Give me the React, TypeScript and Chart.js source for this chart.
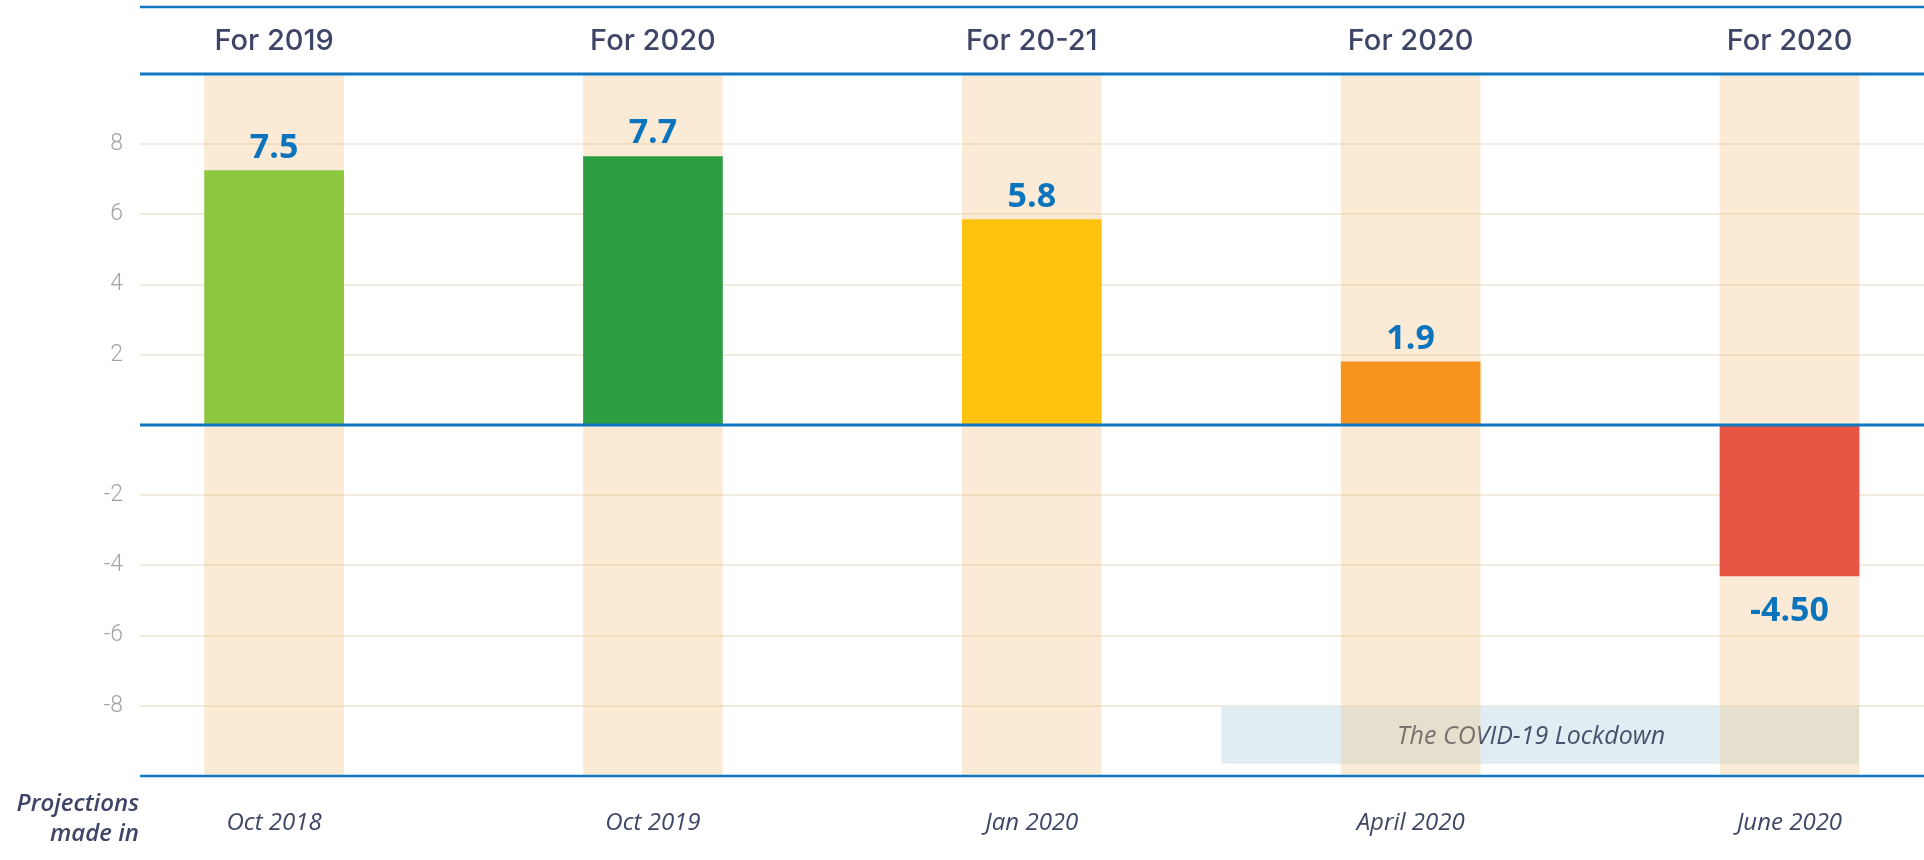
import React, { useEffect, useRef } from 'react';
import { Chart, registerables } from 'chart.js';

Chart.register(...registerables);

// ---- data ----
const POSITIONS = [0, 1, 2, 3, 4];
const FOR_LABELS = ['For 2019', 'For 2020', 'For 20-21', 'For 2020', 'For 2020'];
const MADE_IN = ['Oct 2018', 'Oct 2019', 'Jan 2020', 'April 2020', 'June 2020'];
const VALUES = [7.25, 7.65, 5.85, 1.8, -4.3];
const VALUE_LABELS = ['7.5', '7.7', '5.8', '1.9', '-4.50'];
const BAR_COLORS = ['#8DC63F', '#2E9E42', '#FFC20F', '#F7941E', '#E85444'];
const Y_MIN = -10;
const Y_MAX = 10;
const Y_TICKS = [-8, -6, -4, -2, 2, 4, 6, 8];
const LOCKDOWN_TEXT = 'The COVID-19 Lockdown';
const LOCKDOWN_FROM = 2.5;
const LOCKDOWN_TOP = -8;
const LOCKDOWN_BOTTOM = -9.65;
const ROW_TITLE = ['Projections', 'made in'];

// ---- style ----
const BLUE = '#0F77C0';
const TEXT_DARK = '#3E4566';
const BAR_W = 139;
const X_MIN = -0.354;
const X_MAX = 4.355;

const overlay = {
  id: 'overlay',
  beforeDatasetsDraw(chart: any) {
    const { ctx, scales } = chart;
    const x = scales.x;
    const y = scales.y;
    const left = x.getPixelForValue(LOCKDOWN_FROM);
    const right = x.getPixelForValue(POSITIONS[POSITIONS.length - 1]) + BAR_W / 2;
    const top = y.getPixelForValue(LOCKDOWN_TOP);
    const bottom = y.getPixelForValue(LOCKDOWN_BOTTOM);
    ctx.save();
    ctx.fillStyle = '#E0EEF4';
    ctx.fillRect(left, top, right - left, bottom - top);
    ctx.fillStyle = '#4A4F6B';
    ctx.font = 'italic 25px "Open Sans"';
    ctx.textAlign = 'center';
    ctx.textBaseline = 'middle';
    ctx.fillText(LOCKDOWN_TEXT, (left + right) / 2 - 9, (top + bottom) / 2 + 2);
    ctx.restore();
  },
  afterDatasetsDraw(chart: any) {
    const { ctx, chartArea: ca, scales } = chart;
    const y = scales.y;
    const W = chart.width;
    ctx.save();
    ctx.strokeStyle = BLUE;
    const line = (yy: number, w: number) => {
      ctx.lineWidth = w;
      ctx.beginPath();
      ctx.moveTo(ca.left, yy);
      ctx.lineTo(W, yy);
      ctx.stroke();
    };
    line(7, 2.5);
    line(ca.top, 3);
    line(y.getPixelForValue(0), 3);
    line(ca.bottom, 2.5);

    // value labels
    const meta = chart.getDatasetMeta(1);
    ctx.fillStyle = '#0B74BD';
    ctx.font = 'bold 34px "Open Sans"';
    ctx.textAlign = 'center';
    ctx.textBaseline = 'alphabetic';
    meta.data.forEach((bar: any, i: number) => {
      const v = VALUES[i];
      const yy = v >= 0 ? bar.y - 13 : bar.y + 45;
      ctx.fillText(VALUE_LABELS[i], bar.x, yy);
    });

    // row title
    ctx.fillStyle = TEXT_DARK;
    ctx.font = 'italic 600 24px "Open Sans"';
    ctx.textAlign = 'right';
    ctx.textBaseline = 'middle';
    ctx.fillText(ROW_TITLE[0], ca.left - 1, 804);
    ctx.fillText(ROW_TITLE[1], ca.left - 1, 834);
    ctx.restore();
  },
};

export default function App() {
  const ref = useRef<HTMLCanvasElement>(null);

  useEffect(() => {
    document.body.style.margin = '0';
    const canvas = ref.current;
    if (!canvas) return;
    const xTicks = (axis: any) => {
      axis.ticks = POSITIONS.map((v) => ({ value: v }));
    };
    const chart = new Chart(canvas, {
      type: 'bar',
      data: {
        datasets: [
          {
            data: POSITIONS.map((p) => ({ x: p, y: [Y_MIN, Y_MAX] })) as any,
            backgroundColor: 'rgba(243, 190, 120, 0.3)',
            barThickness: BAR_W,
            grouped: false,
            order: 2,
          },
          {
            data: POSITIONS.map((p, i) => ({ x: p, y: VALUES[i] })) as any,
            backgroundColor: BAR_COLORS,
            barThickness: BAR_W,
            grouped: false,
            order: 1,
          },
        ],
      },
      options: {
        animation: false,
        responsive: false,
        layout: { padding: 0 },
        plugins: { legend: { display: false }, tooltip: { enabled: false } },
        scales: {
          x: {
            type: 'linear',
            position: 'bottom',
            offset: false,
            min: X_MIN,
            max: X_MAX,
            afterBuildTicks: xTicks,
            afterFit: (axis: any) => {
              axis.height = 84;
            },
            grid: { display: false, drawTicks: false, offset: false },
            border: { display: false },
            ticks: {
              autoSkip: false,
              maxRotation: 0,
              padding: 33,
              color: TEXT_DARK,
              font: { family: '"Open Sans"', size: 24, style: 'italic' },
              callback: (v: any) => MADE_IN[v] ?? '',
            },
          },
          xTop: {
            type: 'linear',
            position: 'top',
            offset: false,
            min: X_MIN,
            max: X_MAX,
            afterBuildTicks: xTicks,
            afterFit: (axis: any) => {
              axis.height = 74;
            },
            grid: { display: false, drawTicks: false, offset: false },
            border: { display: false },
            ticks: {
              autoSkip: false,
              maxRotation: 0,
              padding: 15,
              color: TEXT_DARK,
              font: { family: 'Inter', size: 29, weight: '500' },
              callback: (v: any) => FOR_LABELS[v] ?? '',
            },
          },
          y: {
            min: Y_MIN,
            max: Y_MAX,
            afterBuildTicks: (axis: any) => {
              axis.ticks = Y_TICKS.map((v) => ({ value: v }));
            },
            afterFit: (axis: any) => {
              axis.width = 140;
            },
            grid: { color: '#F3EBDD', lineWidth: 2, drawTicks: false },
            border: { display: false },
            ticks: {
              padding: 17,
              color: '#A3A3A3',
              font: { family: 'Roboto', size: 23, weight: '300' },
              callback: (v: any) => String(v),
            },
          },
        },
      },
      plugins: [overlay],
    });
    return () => chart.destroy();
  }, []);

  return <canvas ref={ref} width={1924} height={860} style={{ display: 'block' }} />;
}
